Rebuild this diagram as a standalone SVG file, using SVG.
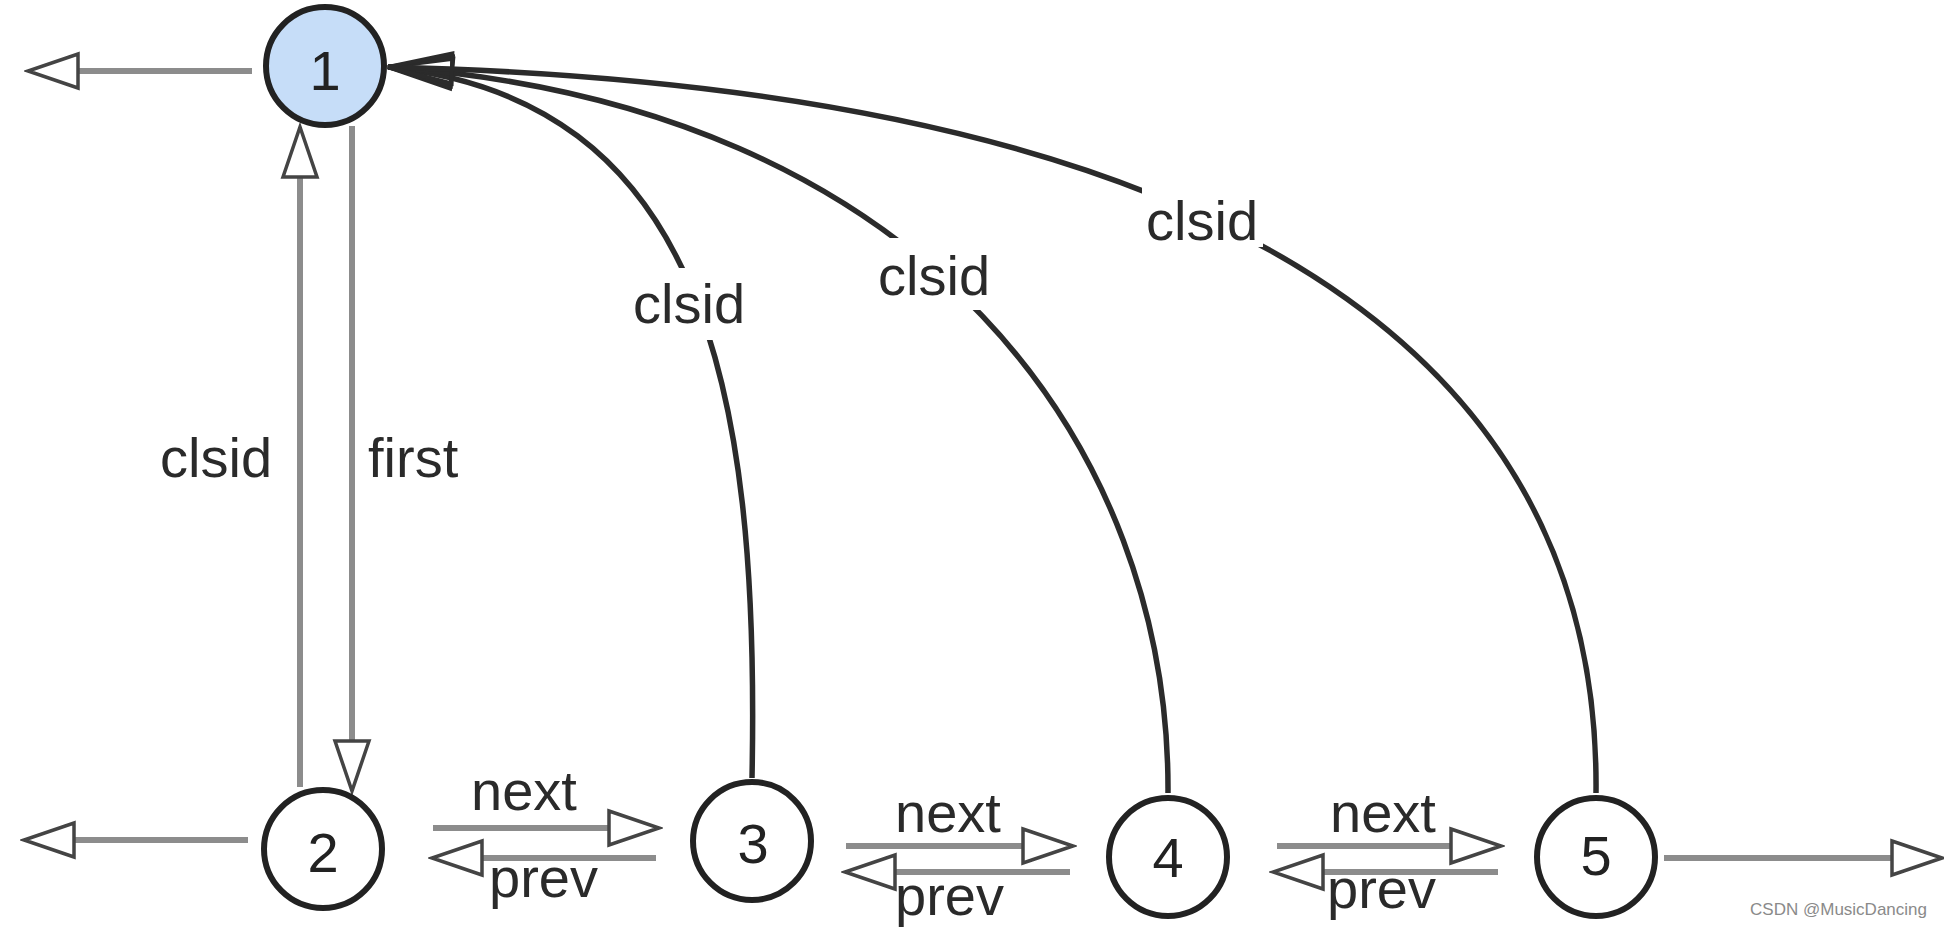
<svg xmlns="http://www.w3.org/2000/svg" width="1944" height="928" viewBox="0 0 1944 928">
  <style>
    .node { stroke: #222; stroke-width: 6; fill: #ffffff; }
    .root { fill: #c6ddf8; }
    .num { font-family: "Liberation Sans", Arial, sans-serif; font-size: 56px; fill: #222; text-anchor: middle; }
    .lbl { font-family: "Liberation Sans", Arial, sans-serif; font-size: 56px; fill: #2a2a2a; }
    .gray { stroke: #8c8c8c; stroke-width: 6; fill: none; marker-end: url(#hollow); }
    .dark { stroke: #2b2b2b; stroke-width: 5.5; fill: none; marker-end: url(#hollowDark); }
    .bg { fill: #ffffff; }
    .wm { font-family: "Liberation Sans", Arial, sans-serif; font-size: 17px; fill: #8a8a8a; text-anchor: end; }
  </style>
  <defs>
    <marker id="hollow" markerUnits="userSpaceOnUse" viewBox="-3 -21 57 42" markerWidth="57" markerHeight="42" refX="0" refY="0" orient="auto">
      <path d="M0,-17 L50,0 L0,17 Z" fill="#ffffff" stroke="#444" stroke-width="3.5" stroke-linejoin="miter"/>
    </marker>
    <marker id="hollowDark" markerUnits="userSpaceOnUse" viewBox="-69 -19 74 38" markerWidth="74" markerHeight="38" refX="0" refY="0" orient="auto">
      <path d="M0,0 L-64,-15 L-64,15 Z" fill="none" stroke="#2b2b2b" stroke-width="4"/>
    </marker>
  </defs>
  <rect width="1944" height="928" fill="#ffffff"/>

  <g id="connectors">
    <!-- gray straight arrows -->
    <line class="gray" x1="252" y1="71" x2="78" y2="71"/>
    <line class="gray" x1="300" y1="787" x2="300" y2="177"/>
    <line class="gray" x1="352" y1="126" x2="352" y2="741"/>
    <line class="gray" x1="248" y1="840" x2="74" y2="840"/>
    <line class="gray" x1="433" y1="828" x2="609" y2="828"/>
    <line class="gray" x1="656" y1="858" x2="482" y2="858"/>
    <line class="gray" x1="846" y1="846" x2="1023" y2="846"/>
    <line class="gray" x1="1070" y1="872" x2="895" y2="872"/>
    <line class="gray" x1="1277" y1="846" x2="1451" y2="846"/>
    <line class="gray" x1="1498" y1="872" x2="1323" y2="872"/>
    <line class="gray" x1="1664" y1="858" x2="1892" y2="858"/>
    <!-- dark curved clsid arrows -->
    <path class="dark" d="M752,778 C760,380 700,100 388,67"/>
    <path class="dark" d="M1168,793 C1170,450 930,105 388,67"/>
    <path class="dark" d="M1596,793 C1600,420 1330,90 388,67"/>
    <!-- labels -->
    <text class="lbl" x="160" y="477">clsid</text>
    <text class="lbl" x="368" y="477">first</text>
    <rect class="bg" x="630" y="268" width="118" height="72"/>
    <text class="lbl" x="633" y="323">clsid</text>
    <rect class="bg" x="875" y="238" width="121" height="72"/>
    <text class="lbl" x="878" y="295">clsid</text>
    <rect class="bg" x="1142" y="186" width="121" height="61"/>
    <text class="lbl" x="1146" y="240">clsid</text>
    <text class="lbl" x="471" y="810">next</text>
    <text class="lbl" x="489" y="897">prev</text>
    <text class="lbl" x="895" y="832">next</text>
    <text class="lbl" x="895" y="915">prev</text>
    <text class="lbl" x="1330" y="832">next</text>
    <text class="lbl" x="1327" y="908">prev</text>
  </g>

  <g id="node1">
    <circle class="node root" cx="325" cy="66" r="59"/>
    <text class="num" x="325" y="90">1</text>
  </g>
  <g id="node2">
    <circle class="node" cx="323" cy="849" r="59"/>
    <text class="num" x="323" y="872">2</text>
  </g>
  <g id="node3">
    <circle class="node" cx="752" cy="841" r="59"/>
    <text class="num" x="753" y="863">3</text>
  </g>
  <g id="node4">
    <circle class="node" cx="1168" cy="857" r="59"/>
    <text class="num" x="1168" y="877">4</text>
  </g>
  <g id="node5">
    <circle class="node" cx="1596" cy="857" r="59"/>
    <text class="num" x="1596" y="875">5</text>
  </g>

  <text class="wm" x="1927" y="915">CSDN @MusicDancing</text>
</svg>
